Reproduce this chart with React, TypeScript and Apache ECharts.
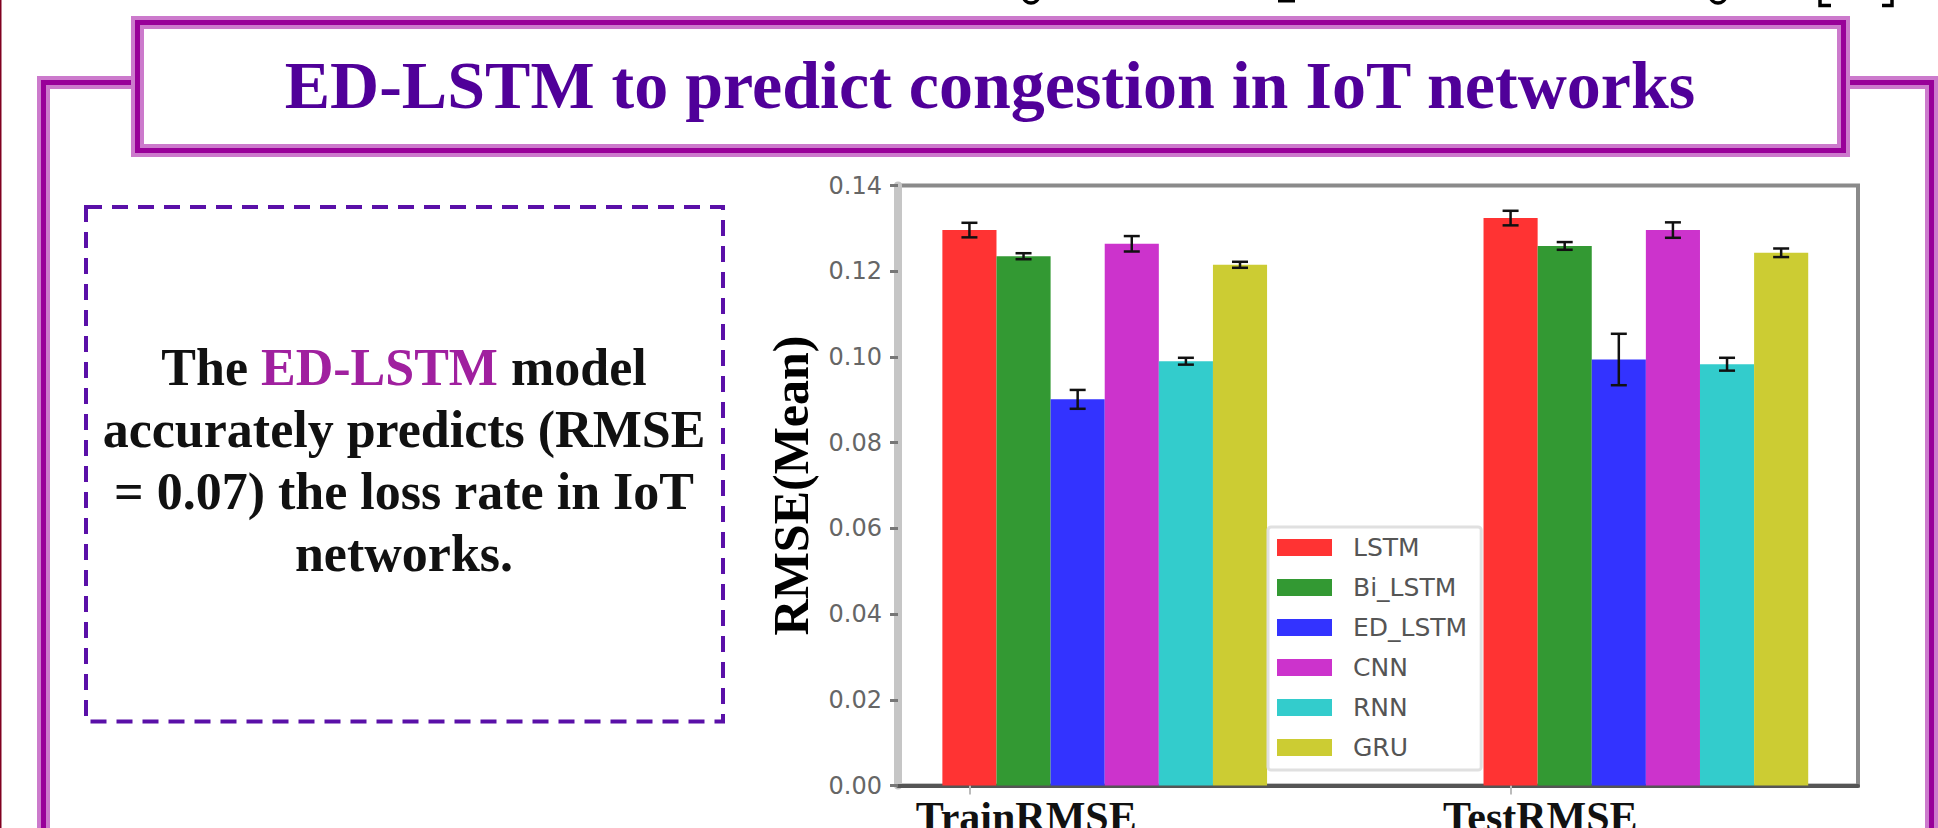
import React, { useEffect, useRef } from 'react';
import * as echarts from 'echarts';

// ---- data ----
const categories = ['TrainRMSE', 'TestRMSE'];
const models = ['LSTM', 'Bi_LSTM', 'ED_LSTM', 'CNN', 'RNN', 'GRU'];
const colors = ['#ff3333', '#339933', '#3333ff', '#cc33cc', '#33cccc', '#cccc33'];
const trainMean = [0.1296, 0.1235, 0.0901, 0.1264, 0.099, 0.1215];
const trainErr = [0.0017, 0.0007, 0.0022, 0.0018, 0.0008, 0.0007];
const testMean = [0.1324, 0.1259, 0.0994, 0.1296, 0.0983, 0.1243];
const testErr = [0.0017, 0.0009, 0.006, 0.0018, 0.0015, 0.001];
const groupPos = [0, 1];
const barWidth = 0.1;
const labelPos = [0.105, 1.055];

const title = 'ED-LSTM to predict congestion in IoT networks';
const bodyLines = [
  '{k|The }{m|ED-LSTM}{k| model}',
  '{k|accurately predicts (RMSE}',
  '{k|= 0.07) the loss rate in IoT}',
  '{k|networks.}',
];

const SERIF = '"Liberation Serif", "Times New Roman", serif';
const SANS = '"DejaVu Sans", sans-serif';

export default function App() {
  const ref = useRef<HTMLDivElement>(null);
  useEffect(() => {
    if (!ref.current) return;
    const chart = echarts.init(ref.current, null, { renderer: 'svg' });

    const series: any[] = models.map((m, i) => ({
      name: m,
      type: 'custom',
      itemStyle: { color: colors[i] },
      data: [
        [groupPos[0] + i * barWidth, trainMean[i], trainErr[i]],
        [groupPos[1] + i * barWidth, testMean[i], testErr[i]],
      ],
      encode: { x: 0, y: 1 },
      z: 3,
      renderItem: (params: any, api: any) => {
        const x = api.value(0);
        const y = api.value(1);
        const e = api.value(2);
        const base = api.coord([x, 0]);
        const top = api.coord([x, y]);
        const hi = api.coord([x, y + e]);
        const lo = api.coord([x, y - e]);
        const w = api.size([barWidth, 0])[0];
        const cap = 8;
        const ls = { stroke: '#111', lineWidth: 2.5 };
        return {
          type: 'group',
          children: [
            {
              type: 'rect',
              shape: { x: base[0] - w / 2, y: top[1], width: w, height: base[1] - top[1] },
              style: { fill: colors[i] },
            },
            { type: 'line', shape: { x1: top[0], y1: hi[1], x2: top[0], y2: lo[1] }, style: ls },
            { type: 'line', shape: { x1: top[0] - cap, y1: hi[1], x2: top[0] + cap, y2: hi[1] }, style: ls },
            { type: 'line', shape: { x1: top[0] - cap, y1: lo[1], x2: top[0] + cap, y2: lo[1] }, style: ls },
          ],
        };
      },
    }));

    const light = '#cc7acc';
    const dark = '#990099';
    const ink = { stroke: '#000', lineWidth: 3.5, fill: 'none' };

    const option: any = {
      animation: false,
      backgroundColor: '#ffffff',
      grid: {
        left: 898,
        right: 80,
        top: 185.5,
        bottom: 42.5,
        containLabel: false,
        outerBoundsMode: 'none',
        show: true,
        borderColor: '#8a8a8a',
        borderWidth: 4,
        backgroundColor: 'transparent',
      },
      xAxis: {
        type: 'value',
        min: -0.132,
        max: 1.642,
        splitLine: { show: false },
        axisLine: { show: true, onZero: false, lineStyle: { color: '#555', width: 4 } },
        axisTick: {
          show: true,
          customValues: groupPos,
          length: 9,
          lineStyle: { color: '#bbb', width: 2 },
        },
        axisLabel: {
          show: true,
          customValues: labelPos,
          formatter: (v: number) => (v < 0.5 ? categories[0] : categories[1]),
          fontFamily: SERIF,
          fontWeight: 'bold',
          fontSize: 42,
          color: '#111',
          margin: 10,
        },
      },
      yAxis: {
        type: 'value',
        min: 0,
        max: 0.14,
        interval: 0.02,
        name: 'RMSE(Mean)',
        nameLocation: 'middle',
        nameGap: 82,
        nameTextStyle: { fontFamily: SERIF, fontWeight: 'bold', fontSize: 50, color: '#000' },
        splitLine: { show: false },
        axisLine: { show: true, onZero: false, lineStyle: { color: '#c6c6c6', width: 8 } },
        axisTick: { show: true, length: 8, lineStyle: { color: '#777', width: 3 } },
        axisLabel: {
          formatter: (v: number) => v.toFixed(2),
          fontFamily: SANS,
          fontSize: 24,
          color: '#666',
          margin: 16,
        },
      },
      legend: {
        orient: 'vertical',
        left: 1268,
        top: 527,
        data: models,
        icon: 'rect',
        itemWidth: 55,
        itemHeight: 17,
        itemGap: 15,
        padding: [8, 14, 10, 9],
        borderColor: '#e0e0e0',
        borderWidth: 3,
        borderRadius: 3,
        backgroundColor: '#ffffff',
        textStyle: { fontFamily: SANS, fontSize: 25, color: '#555', padding: [0, 0, 0, 16] },
      },
      graphic: [
        // left edge line
        { type: 'rect', shape: { x: 0, y: 0, width: 1.5, height: 828 }, style: { fill: '#800020' }, z: 0 },
        // outer frame
        {
          type: 'rect',
          shape: { x: 43.5, y: 82.5, width: 1888, height: 1000 },
          style: { fill: 'none', stroke: light, lineWidth: 13 },
          z: 0,
        },
        {
          type: 'rect',
          shape: { x: 43.5, y: 82.5, width: 1888, height: 1000 },
          style: { fill: 'none', stroke: dark, lineWidth: 5 },
          z: 0,
        },
        // title box
        {
          type: 'rect',
          shape: { x: 137.5, y: 22.5, width: 1706, height: 128 },
          style: { fill: '#ffffff', stroke: light, lineWidth: 13 },
          z: 1,
        },
        {
          type: 'rect',
          shape: { x: 137.5, y: 22.5, width: 1706, height: 128 },
          style: { fill: 'none', stroke: dark, lineWidth: 5 },
          z: 1,
        },
        {
          type: 'text',
          x: 990,
          y: 119,
          z: 2,
          style: {
            text: title,
            font: `bold 68px ${SERIF}`,
            fill: '#500099',
            align: 'center',
            verticalAlign: 'bottom',
          },
        },
        // dashed box
        {
          type: 'rect',
          shape: { x: 86, y: 207, width: 637, height: 514.5 },
          style: { fill: 'none', stroke: '#5a10a8', lineWidth: 4, lineDash: [16, 10] },
          z: 1,
        },
        {
          type: 'text',
          x: 404,
          y: 336,
          z: 2,
          style: {
            text: bodyLines.join('\n'),
            align: 'center',
            verticalAlign: 'top',
            lineHeight: 62,
            font: `bold 52px ${SERIF}`,
            rich: {
              k: { fontFamily: SERIF, fontWeight: 'bold', fontSize: 52, lineHeight: 62, fill: '#111', color: '#111' },
              m: { fontFamily: SERIF, fontWeight: 'bold', fontSize: 52, lineHeight: 62, fill: '#a0209f', color: '#a0209f' },
            },
          },
        },
        // ink remnants of the line of text cropped off above the picture
        { type: 'arc', shape: { cx: 1031, cy: -5, r: 8, startAngle: 0.2, endAngle: Math.PI - 0.2 }, style: ink, z: 2 },
        { type: 'arc', shape: { cx: 1718, cy: -5, r: 8, startAngle: 0.2, endAngle: Math.PI - 0.2 }, style: ink, z: 2 },
        { type: 'rect', shape: { x: 1278, y: 0, width: 17, height: 2.5 }, style: { fill: '#000' }, z: 2 },
        { type: 'polyline', shape: { points: [[1820, 0], [1820, 5.5], [1831, 5.5]] }, style: ink, z: 2 },
        { type: 'polyline', shape: { points: [[1892, 0], [1892, 5.5], [1882, 5.5]] }, style: ink, z: 2 },
      ],
      series,
    };

    chart.setOption(option);
    return () => chart.dispose();
  }, []);

  return (
    <div
      ref={ref}
      style={{ position: 'fixed', left: 0, top: 0, width: 1938, height: 828, background: '#fff' }}
    />
  );
}
